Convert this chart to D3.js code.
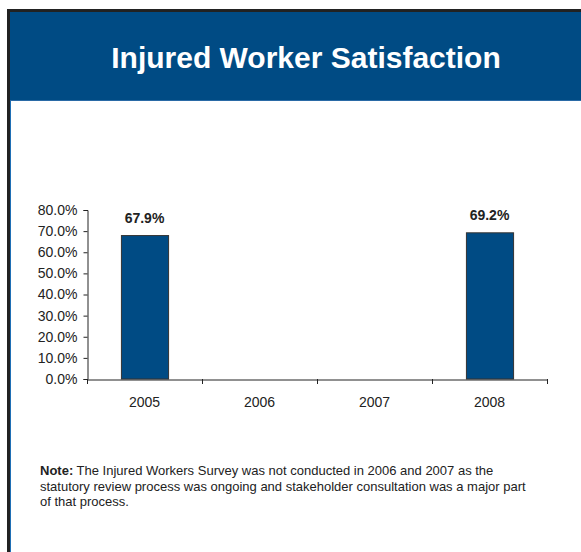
<!DOCTYPE html>
<html><head><meta charset="utf-8">
<script src="https://cdn.jsdelivr.net/npm/d3@7"></script>
<style>body{margin:0;background:#fff;} svg{display:block;}</style>
</head><body>
<svg id="c" width="581" height="552"></svg>
<script>
const titleText = "Injured Worker Satisfaction";
const categories = ["2005", "2006", "2007", "2008"];
const values = [67.9, null, null, 69.2];
const yTicks = [0, 10, 20, 30, 40, 50, 60, 70, 80];
const noteLines = [
  ["Note:", " The Injured Workers Survey was not conducted in 2006 and 2007 as the"],
  ["", "statutory review process was ongoing and stakeholder consultation was a major part"],
  ["", "of that process."]
];

const svg = d3.select("#c");
const font = "Liberation Sans, Arial, sans-serif";

// frame
svg.append("rect").attr("x", 10).attr("y", 12).attr("width", 571).attr("height", 88).attr("fill", "#004b84");
svg.append("line").attr("x1", 8.5).attr("x2", 8.5).attr("y1", 9).attr("y2", 552).attr("stroke", "#222").attr("stroke-width", 3);
svg.append("line").attr("x1", 7).attr("x2", 581).attr("y1", 10.5).attr("y2", 10.5).attr("stroke", "#222").attr("stroke-width", 3);
svg.append("line").attr("x1", 10.5).attr("x2", 10.5).attr("y1", 100).attr("y2", 552).attr("stroke", "#1f6fb5").attr("stroke-width", 1);
svg.append("line").attr("x1", 10).attr("x2", 581).attr("y1", 100.5).attr("y2", 100.5).attr("stroke", "#2a6aa6").attr("stroke-width", 1);

svg.append("text").attr("x", 306).attr("y", 68).attr("text-anchor", "middle")
  .attr("fill", "#fff").attr("font-family", font).attr("font-weight", "bold")
  .attr("font-size", 30).text(titleText);

const x = d3.scaleBand().domain(categories).range([87, 547]).paddingInner(0.59).paddingOuter(0.295);
const y = d3.scaleLinear().domain([0, 80]).range([379, 210]);

const xb = d3.scaleBand().domain(categories).range([87, 547]);

const g = svg.append("g");
// y axis
const ya = g.append("g").attr("transform", "translate(87.5,0)")
  .call(d3.axisLeft(y).tickValues(yTicks).tickSize(4).tickFormat(d => d.toFixed(1) + "%"));
ya.select(".domain").attr("stroke", "#222");
ya.selectAll(".tick line").attr("stroke", "#222");
ya.selectAll("text").attr("font-family", font).attr("font-size", 14).attr("fill", "#222").attr("x", -10);

// bars
g.selectAll("rect.bar").data(categories.map((c, i) => ({c, v: values[i]})).filter(d => d.v != null))
  .enter().append("rect").attr("class", "bar")
  .attr("x", d => x(d.c) + 0.5).attr("y", d => y(d.v))
  .attr("width", x.bandwidth()).attr("height", d => y(0) - y(d.v))
  .attr("fill", "#004b84").attr("stroke", "#333").attr("stroke-width", 1);

g.selectAll("text.lbl").data(categories.map((c, i) => ({c, v: values[i]})).filter(d => d.v != null))
  .enter().append("text").attr("class", "lbl")
  .attr("x", d => x(d.c) + x.bandwidth() / 2).attr("y", d => y(d.v) - 13)
  .attr("text-anchor", "middle").attr("font-family", font).attr("font-weight", "bold")
  .attr("font-size", 14).attr("fill", "#222").text(d => d.v.toFixed(1) + "%");

// x axis
const xa = g.append("g").attr("transform", "translate(0,379.5)")
  .call(d3.axisBottom(xb).tickSize(0).tickSizeOuter(0));
xa.select(".domain").attr("stroke", "#222");
xa.selectAll("text").attr("font-family", font).attr("font-size", 14).attr("fill", "#222").attr("dy", "0").attr("y", 27);
const bounds = categories.map(c => xb(c)).concat([547]);
g.selectAll("line.xt").data(bounds).enter().append("line").attr("class", "xt")
  .attr("x1", d => Math.round(d) + 0.5).attr("x2", d => Math.round(d) + 0.5)
  .attr("y1", 379).attr("y2", 384).attr("stroke", "#222");

// note
const note = svg.append("g");
noteLines.forEach((ln, i) => {
  const t = note.append("text").attr("x", 40).attr("y", 475 + i * 15.5)
    .attr("font-family", font).attr("font-size", 13).attr("fill", "#222");
  if (ln[0]) t.append("tspan").attr("font-weight", "bold").text(ln[0]);
  t.append("tspan").text(ln[1]);
});
</script>
</body></html>
